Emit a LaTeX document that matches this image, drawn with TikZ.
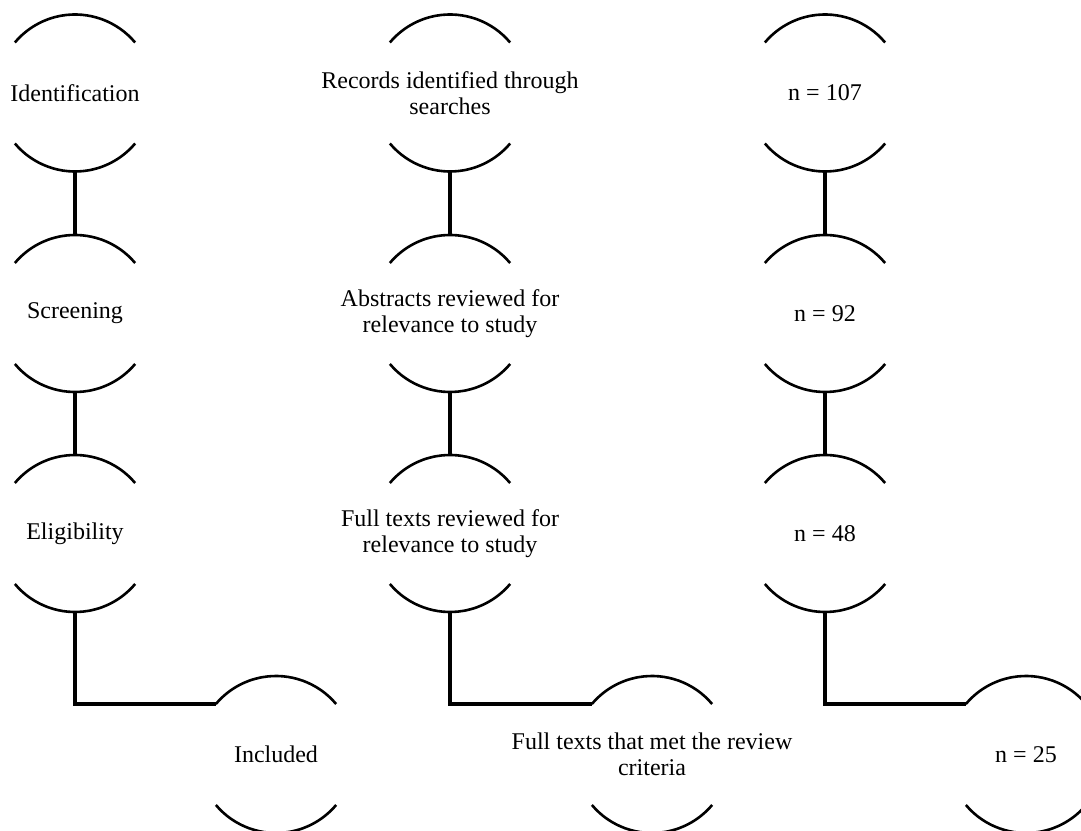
\documentclass[tikz,border=0pt]{standalone}
\usepackage{fontspec}
\setmainfont{Liberation Serif}
\begin{document}
\begin{tikzpicture}[x=1pt,y=1pt,
  lbl/.style={font=\fontsize{24}{26}\selectfont, align=center, inner sep=0pt},
  arcline/.style={line width=2.6pt, draw=black},
  conn/.style={line width=3.8pt, draw=black}]
\useasboundingbox (0,0) rectangle (1081,830);
\def\R{78.5}
% centres
\coordinate (c11) at (75,737);   \coordinate (c12) at (450,737);   \coordinate (c13) at (825,737);
\coordinate (c21) at (75,516.5); \coordinate (c22) at (450,516.5); \coordinate (c23) at (825,516.5);
\coordinate (c31) at (75,296.5); \coordinate (c32) at (450,296.5); \coordinate (c33) at (825,296.5);
\coordinate (c41) at (276,75.5); \coordinate (c42) at (652,75.5);  \coordinate (c43) at (1026,75.5);
% labels
\node[lbl] (t11) at (c11) {Identification};
\node[lbl] (t12) at (c12) {Records identified through\\searches};
\node[lbl] (t13) at (c13) {n = 107};
\node[lbl] (t21) at (c21) {Screening};
\node[lbl] (t22) at (c22) {Abstracts reviewed for\\relevance to study};
\node[lbl] (t23) at (c23) {n = 92};
\node[lbl] (t31) at (c31) {Eligibility};
\node[lbl] (t32) at (c32) {Full texts reviewed for\\relevance to study};
\node[lbl] (t33) at (c33) {n = 48};
\node[lbl] (t41) at (c41) {Included};
\node[lbl] (t42) at (c42) {Full texts that met the review\\criteria};
\node[lbl] (t43) at (c43) {n = 25};
% arcs
\foreach \c in {c11,c12,c13,c21,c22,c23,c31,c32,c33,c41,c42,c43}{
  \draw[arcline] ([shift={(40:\R)}]\c) arc[start angle=40,end angle=140,radius=\R];
  \draw[arcline] ([shift={(220:\R)}]\c) arc[start angle=220,end angle=320,radius=\R];
}
% vertical connectors
\foreach \a/\b in {c11/c21,c21/c31,c12/c22,c22/c32,c13/c23,c23/c33}{
  \draw[conn] ([yshift=-\R]\a) -- ([yshift=\R]\b);
}
% elbow connectors
\foreach \a/\b in {c31/c41,c32/c42,c33/c43}{
  \draw[conn] ([yshift=-\R]\a) |- ([shift={(140:\R)}]\b);
}
\end{tikzpicture}
\end{document}
